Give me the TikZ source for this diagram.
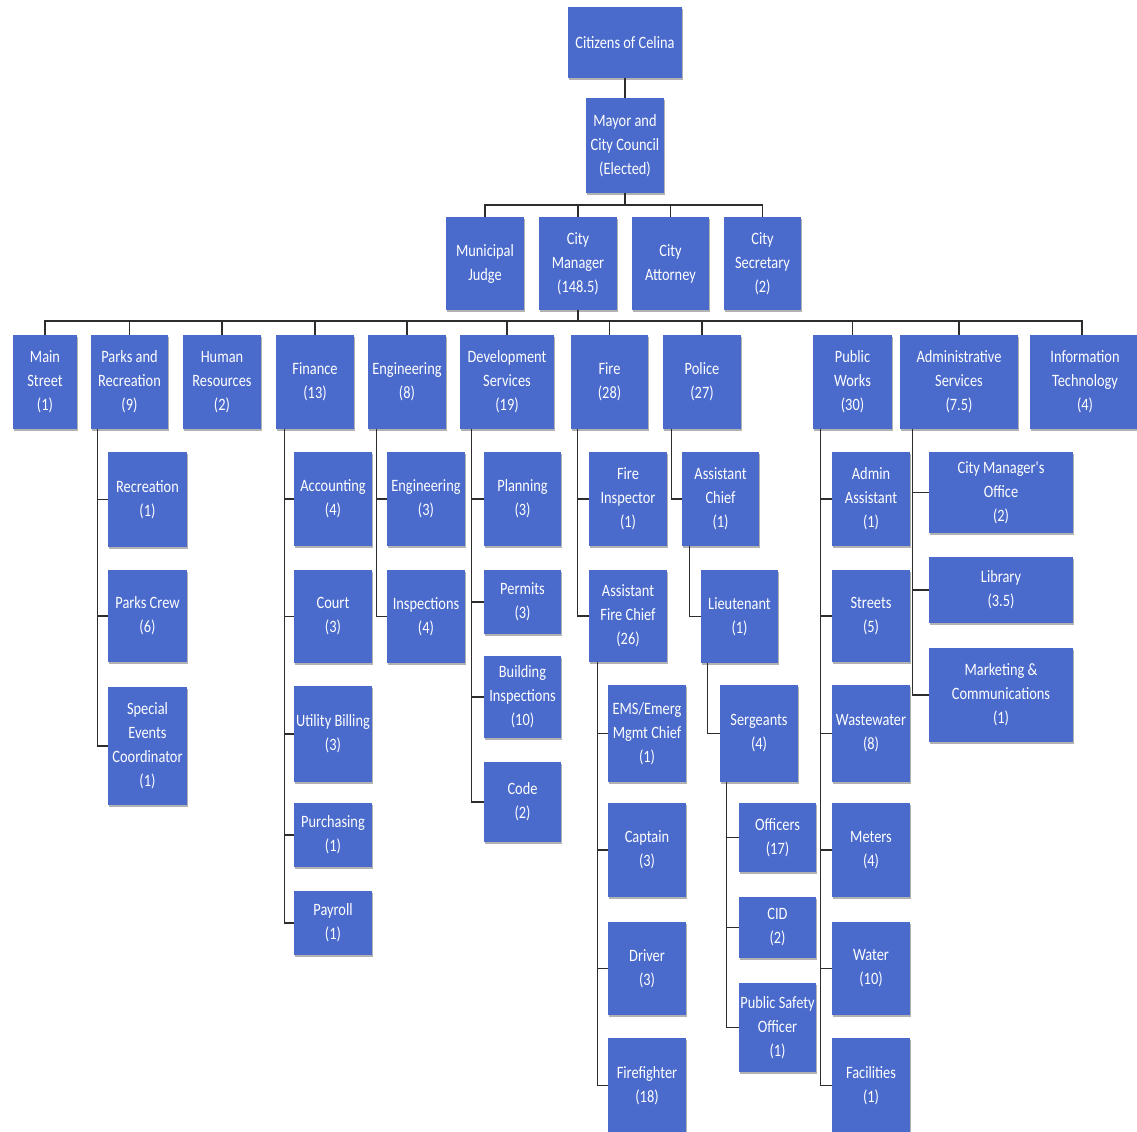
\documentclass[tikz,border=0pt]{standalone}
\usepackage{fontspec}
\newfontfamily\boxfont[FakeStretch=0.83]{Carlito}
\usetikzlibrary{shadows}
\definecolor{boxblue}{RGB}{74,106,204}
\definecolor{linegray}{RGB}{45,45,45}
\tikzset{
  box/.style={rectangle, fill=boxblue, text=white, align=center,
    inner xsep=0pt, inner ysep=0pt,
    font=\boxfont\fontsize{13}{18}\selectfont,
    drop shadow={shadow xshift=0.8pt, shadow yshift=-1.2pt, opacity=0.3, fill=black}},
  conn/.style={draw=linegray, line width=0.8pt}
}
\newcommand{\bx}[6]{\node[box, minimum width={(#4-#2)*0.75pt}, minimum height={(#5-#3)*0.75pt}] (#1) at ({(#2+#4)/2},{(#3+#5)/2}) {#6};}
\begin{document}
\begin{tikzpicture}[x=0.75pt, y=-0.75pt]
\fill[white] (0,0) rectangle (1137,1131);
\useasboundingbox (0,0) rectangle (1137,1131);
% top levels
\bx{citizens}{568}{7}{682}{78}{Citizens of Celina}
\bx{mayor}{586}{98}{664}{193}{Mayor and\\City Council\\(Elected)}
\bx{judge}{446}{217}{524}{310}{Municipal\\Judge}
\bx{manager}{539}{217}{617}{310}{City\\Manager\\(148.5)}
\bx{attorney}{632}{217}{709}{310}{City\\Attorney}
\bx{secretary}{724}{217}{801}{310}{City\\Secretary\\(2)}
% departments
\bx{mainst}{13}{335}{77}{429}{Main\\Street\\(1)}
\bx{parks}{91}{335}{168}{429}{Parks and\\Recreation\\(9)}
\bx{hr}{183}{335}{261}{429}{Human\\Resources\\(2)}
\bx{finance}{276}{335}{354}{429}{Finance\\(13)}
\bx{eng}{368}{335}{446}{429}{Engineering\\(8)}
\bx{dev}{460}{335}{554}{429}{Development\\Services\\(19)}
\bx{fire}{571}{335}{648}{429}{Fire\\(28)}
\bx{police}{663}{335}{741}{429}{Police\\(27)}
\bx{pw}{813}{335}{892}{429}{Public\\Works\\(30)}
\bx{admin}{900}{335}{1018}{429}{Administrative\\Services\\(7.5)}
\bx{it}{1030}{335}{1140}{429}{Information\\Technology\\(4)}
% parks
\bx{rec}{108}{452}{187}{547}{Recreation\\(1)}
\bx{crew}{108}{570}{187}{662}{Parks Crew\\(6)}
\bx{special}{108}{687}{187}{805}{Special\\Events\\Coordinator\\(1)}
% finance
\bx{acct}{294}{452}{372}{546}{Accounting\\(4)}
\bx{court}{294}{570}{372}{663}{Court\\(3)}
\bx{util}{294}{686}{372}{782}{Utility Billing\\(3)}
\bx{purch}{294}{803}{372}{867}{Purchasing\\(1)}
\bx{payroll}{294}{891}{372}{955}{Payroll\\(1)}
% engineering
\bx{engsub}{387}{452}{465}{546}{Engineering\\(3)}
\bx{insp}{387}{570}{465}{663}{Inspections\\(4)}
% development
\bx{plan}{484}{452}{561}{546}{Planning\\(3)}
\bx{permits}{484}{570}{561}{634}{Permits\\(3)}
\bx{bldg}{484}{656}{561}{738}{Building\\Inspections\\(10)}
\bx{code}{484}{762}{561}{842}{Code\\(2)}
% fire
\bx{fireinsp}{589}{452}{667}{546}{Fire\\Inspector\\(1)}
\bx{afc}{589}{570}{667}{662}{Assistant\\Fire Chief\\(26)}
\bx{ems}{608}{685}{686}{782}{EMS/Emerg\\Mgmt Chief\\(1)}
\bx{captain}{608}{803}{686}{897}{Captain\\(3)}
\bx{driver}{608}{922}{686}{1015}{Driver\\(3)}
\bx{ff}{608}{1038}{686}{1133}{Firefighter\\(18)}
% police
\bx{ac}{682}{452}{759}{546}{Assistant\\Chief\\(1)}
\bx{lt}{701}{570}{778}{663}{Lieutenant\\(1)}
\bx{sgt}{720}{685}{798}{782}{Sergeants\\(4)}
\bx{officers}{739}{803}{816}{872}{Officers\\(17)}
\bx{cid}{739}{897}{816}{958}{CID\\(2)}
\bx{pso}{739}{983}{816}{1072}{Public Safety\\Officer\\(1)}
% public works
\bx{adminasst}{832}{452}{910}{546}{Admin\\Assistant\\(1)}
\bx{streets}{832}{570}{910}{662}{Streets\\(5)}
\bx{waste}{832}{685}{910}{782}{Wastewater\\(8)}
\bx{meters}{832}{803}{910}{897}{Meters\\(4)}
\bx{water}{832}{922}{910}{1015}{Water\\(10)}
\bx{facil}{832}{1038}{910}{1133}{Facilities\\(1)}
% administrative services
\bx{cmo}{929}{452}{1073}{533}{City Manager's\\Office\\(2)}
\bx{library}{929}{557}{1073}{623}{Library\\(3.5)}
\bx{mkt}{929}{648}{1073}{742}{Marketing \&\\Communications\\(1)}
% bus coordinates
\coordinate (busA) at (0,205);
\coordinate (busB) at (0,321);
% connectors: top
\draw[conn] (citizens.south) -- (mayor.north);
\draw[conn] (mayor.south) -- (mayor.south |- busA);
\draw[conn] (judge.north) -- (judge.north |- busA) -- (secretary.north |- busA) -- (secretary.north);
\foreach \n in {manager,attorney} \draw[conn] (\n.north) -- (\n.north |- busA);
\draw[conn] (manager.south) -- (manager.south |- busB);
\draw[conn] (mainst.north) -- (mainst.north |- busB) -- ([xshift=-2.25pt]it.north |- busB) -- ([xshift=-2.25pt]it.north);
\foreach \n in {parks,hr,finance,eng,dev,fire,police,pw,admin} \draw[conn] (\n.north) -- (\n.north |- busB);
% sub-branches
\foreach \c in {rec,crew,special} \draw[conn] ([xshift=5.25pt]parks.south west) |- (\c.west);
\foreach \c in {acct,court,util,purch,payroll} \draw[conn] ([xshift=6.75pt]finance.south west) |- (\c.west);
\foreach \c in {engsub,insp} \draw[conn] ([xshift=6.75pt]eng.south west) |- (\c.west);
\foreach \c in {plan,permits,bldg,code} \draw[conn] ([xshift=9pt]dev.south west) |- (\c.west);
\foreach \c in {fireinsp,afc} \draw[conn] ([xshift=5.25pt]fire.south west) |- (\c.west);
\foreach \c in {ems,captain,driver,ff} \draw[conn] ([xshift=6.75pt]afc.south west) |- (\c.west);
\draw[conn] ([xshift=6.75pt]police.south west) |- (ac.west);
\draw[conn] ([xshift=6pt]ac.south west) |- (lt.west);
\draw[conn] ([xshift=5.25pt]lt.south west) |- (sgt.west);
\foreach \c in {officers,cid,pso} \draw[conn] ([xshift=5.25pt]sgt.south west) |- (\c.west);
\foreach \c in {adminasst,streets,waste,meters,water,facil} \draw[conn] ([xshift=6pt]pw.south west) |- (\c.west);
\foreach \c in {cmo,library,mkt} \draw[conn] ([xshift=9.75pt]admin.south west) |- (\c.west);
\end{tikzpicture}
\end{document}
